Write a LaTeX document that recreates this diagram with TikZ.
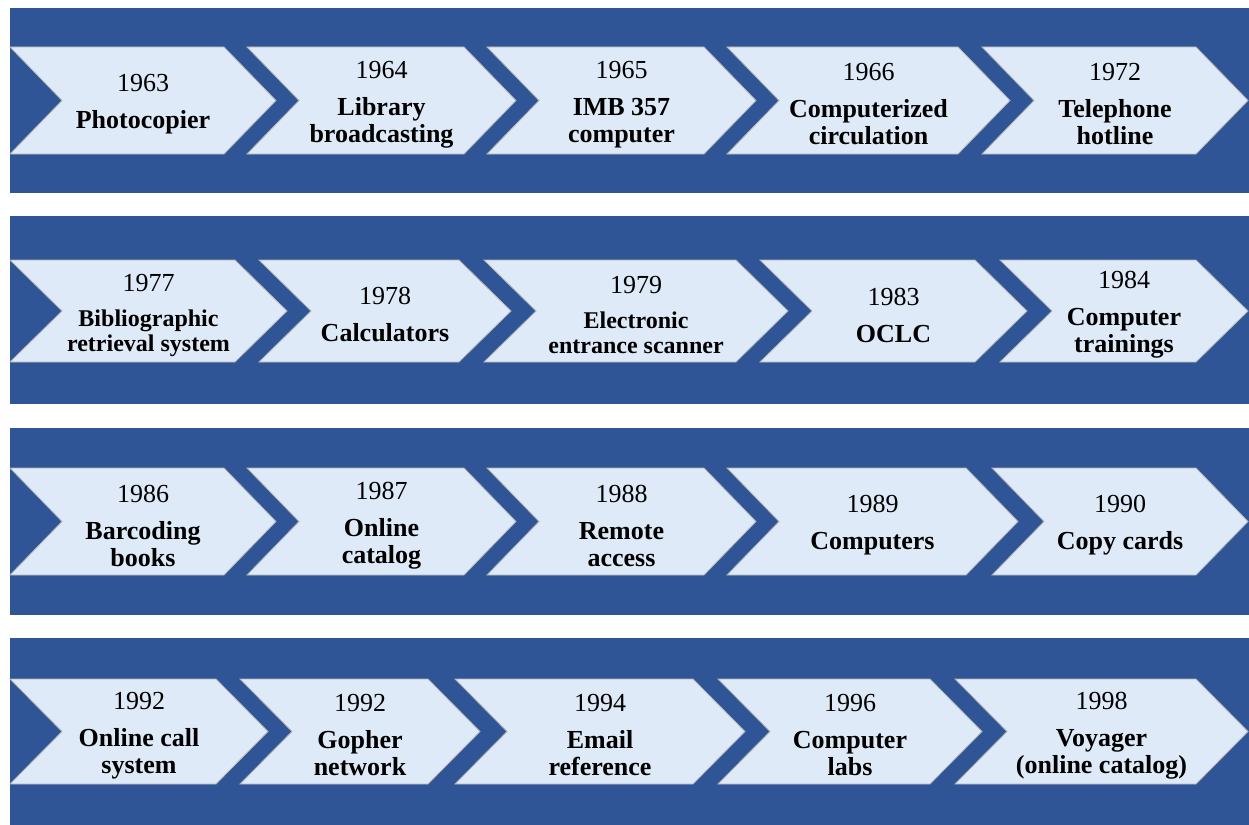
\documentclass[tikz,border=0pt]{standalone}
\usepackage{fontspec}
\setmainfont{Liberation Serif}
\definecolor{bandblue}{RGB}{47,85,151}
\definecolor{chevfill}{RGB}{222,234,247}
\tikzset{
  band/.style={fill=bandblue, draw=none},
  chev/.style={fill=chevfill, draw=gray!60, line width=0.8pt, line join=miter},
  lbl/.style={align=center, inner sep=0pt, text=black, font=\fontsize{26}{27}\selectfont\bfseries},
  small/.style={font=\fontsize{24}{25}\selectfont\bfseries},
}
\newcommand\yr[1]{{\mdseries\fontsize{26}{27}\selectfont #1}\\[10pt]}
\newcommand\mychev[7]{%
  \draw[chev] (#1,#3) -- ({#2-52},#3) -- (#2,{(#3+#4)/2}) -- ({#2-52},#4) -- (#1,#4) -- ({#1+52},{(#3+#4)/2}) -- cycle;
  \node[lbl,#6] (#5) at ({(#1+#2)/2},{(#3+#4)/2+4}) {#7};
}
\begin{document}
\begin{tikzpicture}[x=1pt,y=-1pt]
\useasboundingbox (0,0) rectangle (1249,824);
% bands
\fill[band] (10,8) rectangle (1249,193);
\fill[band] (10,216) rectangle (1249,404);
\fill[band] (10,428) rectangle (1249,615);
\fill[band] (10,638) rectangle (1249,826);
% row 1
\mychev{10}{276}{47}{154}{a1}{}{\yr{1963}Photocopier}
\mychev{247}{516}{47}{154}{a2}{}{\yr{1964}Library\\broadcasting}
\mychev{487}{756}{47}{154}{a3}{}{\yr{1965}IMB 357\\computer}
\mychev{727}{1010}{47}{154}{a4}{}{\yr{1966}Computerized\\circulation}
\mychev{982}{1248}{47}{154}{a5}{}{\yr{1972}Telephone\\hotline}
% row 2
\mychev{10}{287}{260}{362}{b1}{small}{\yr{1977}Bibliographic\\retrieval system}
\mychev{259}{511}{260}{362}{b2}{}{\yr{1978}Calculators}
\mychev{484}{788}{260}{362}{b3}{small}{\yr{1979}Electronic\\entrance scanner}
\mychev{760}{1027}{260}{362}{b4}{}{\yr{1983}OCLC}
\mychev{1000}{1248}{260}{362}{b5}{}{\yr{1984}Computer\\trainings}
% row 3
\mychev{10}{276}{468}{575}{c1}{}{\yr{1986}Barcoding\\books}
\mychev{247}{516}{468}{575}{c2}{}{\yr{1987}Online\\catalog}
\mychev{487}{756}{468}{575}{c3}{}{\yr{1988}Remote\\access}
\mychev{727}{1018}{468}{575}{c4}{}{\yr{1989}Computers}
\mychev{992}{1248}{468}{575}{c5}{}{\yr{1990}Copy cards}
% row 4
\mychev{10}{268}{679}{784}{d1}{}{\yr{1992}Online call\\system}
\mychev{240}{480}{679}{784}{d2}{}{\yr{1992}Gopher\\network}
\mychev{455}{745}{679}{784}{d3}{}{\yr{1994}Email\\reference}
\mychev{718}{982}{679}{784}{d4}{}{\yr{1996}Computer\\labs}
\mychev{955}{1248}{679}{784}{d5}{}{\yr{1998}Voyager\\(online catalog)}
\end{tikzpicture}
\end{document}
